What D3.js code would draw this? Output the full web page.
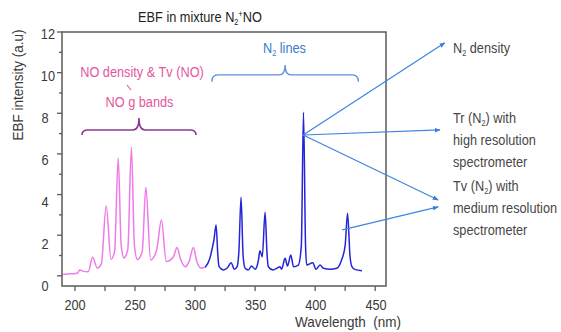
<!DOCTYPE html>
<html><head><meta charset="utf-8">
<script src="https://cdn.jsdelivr.net/npm/d3@7"></script>
<style>body{margin:0;background:#fff}svg{display:block}text{font-family:"Liberation Sans Narrow","Arial Narrow","Liberation Sans",Arial,sans-serif}</style>
</head><body><svg id="c" width="561" height="332"></svg>
<script>
// ---- data ----
const noWavelength = [190,196,202,204,207,211,214.7,218.6,222,226,230,233,236,238.5,240.8,244,247,249.5,252,256,259,263,268,272,276,282,285,288,291.7,295,298.6,301.5,304.7,308.5];
const noIntensity  = [0.07,0.1,0.13,0.29,0.22,0.2,0.92,0.38,0.6,3.45,0.82,1.2,5.8,1.5,0.88,1.3,6.33,1.5,0.8,1.2,4.36,0.78,1.27,2.75,0.7,0.94,1.4,0.8,0.45,0.7,1.4,0.7,0.38,0.42];
const n2Wavelength = [308.5,312,314,315.8,317.5,319,320,323.6,327,330,332.8,335,336.5,338.3,340,341.7,344.4,347,350,352.8,354,356,358.3,360,361,365,368,370.8,372,375,377,379.7,382,386,388.5,390.3,392,393,398,400.8,404,407,412.5,418,422,425,427,429,430.6,433,439];
const n2Intensity  = [0.42,0.8,1.27,1.8,2.5,1.0,0.45,0.29,0.4,0.65,0.32,0.45,1.2,3.87,1.0,0.37,0.29,0.48,0.33,0.78,1.24,0.94,3.13,1.0,0.45,0.29,0.37,0.45,0.33,0.86,0.48,1.02,0.45,0.53,1.5,8.05,1.5,0.53,0.65,0.32,0.53,0.37,0.32,0.37,0.78,1.5,3.08,1.0,0.45,0.32,0.25];
const xTickValues = [200,225,250,275,300,325,350,375,400,425,450];
const xTickLabels = ["200","250","300","350","400","450"];
const yTickValues = [0,1,2,3,4,5,6,7,8,9,10,11,12];
const yTickLabels = ["0","2","4","6","8","10","12"];
// annotation braces: [start nm, tip nm, end nm, tip value, line value, end value]
const noBrace = [205.8,253.3,300.8,7.77,7.18,6.93];
const n2Brace = [314,375,436,10.38,9.89,9.55];
// arrows: [from nm, from value, to nm, to value]
const arrows = [[390,6.93,508,11.47],[390,6.93,504,7.18],[390,6.93,502.5,3.73],[422.5,2.26,502.5,3.39]];

// ---- scales ----
const svg = d3.select("#c");
const x = d3.scaleLinear().domain([189.2,459]).range([62,386]);
const y = d3.scaleLinear().domain([-0.5,12]).range([286,32]);
const yLab = d3.scaleLinear().domain([0,12]).range([285,33]);
const xLab = d3.scaleLinear().domain([200,450]).range([75,376]);

const axisCol = "#5a5a5a", tickTxt = "#3a3a3a";
const SX = 0.85, FS = 15;

// condensed text helper
function ctext(px, py, opts){
  const g = svg.append("g").attr("transform",`translate(${px},${py})${opts.rot?` rotate(${opts.rot})`:""} scale(${opts.sx||SX},1)`);
  const t = g.append("text").attr("font-size",opts.fs||FS).attr("fill",opts.fill||tickTxt)
    .attr("text-anchor",opts.anchor||"start");
  return t;
}
function chem(t, pre, sub, post, supPlus){
  t.append("tspan").text(pre);
  t.append("tspan").attr("dy",3).attr("font-size",8.5).text(sub);
  if(supPlus){
    t.append("tspan").attr("dy",-8).attr("font-size",9).text("+");
    t.append("tspan").attr("dy",5).text(post);
  } else t.append("tspan").attr("dy",-3).text(post);
}

// frame
svg.append("rect").attr("x",62).attr("y",32).attr("width",324).attr("height",254)
  .attr("fill","none").attr("stroke",axisCol).attr("stroke-width",1.5);

// y ticks
svg.append("g").selectAll("line").data(yTickValues).join("line")
  .attr("x1",62).attr("x2",d=>d%2===0?57:59).attr("y1",d=>y(d)).attr("y2",d=>y(d))
  .attr("stroke",axisCol).attr("stroke-width",1.3);
yTickLabels.forEach(d=>{
  ctext(d.length>1?55:48.5, yLab(+d)+5.5, {anchor:"end"}).text(d);
});

// x ticks
svg.append("g").selectAll("line").data(xTickValues).join("line")
  .attr("x1",d=>x(d)).attr("x2",d=>x(d)).attr("y1",286).attr("y2",291)
  .attr("stroke",axisCol).attr("stroke-width",1.3);
xTickLabels.forEach(d=>{
  ctext(xLab(+d), 309.5, {anchor:"middle"}).text(d);
});

// axis titles
ctext(23,85,{rot:-90,anchor:"middle",sx:0.9}).text("EBF intensity (a.u)");
ctext(295,327,{sx:0.9}).text("Wavelength\u00a0\u00a0(nm)");

// title
chem(ctext(200,21.5,{anchor:"middle",fill:"#222"}),"EBF in mixture N","2","NO",true);

// spectra
const line = d3.line().x(d=>x(d[0])).y(d=>y(d[1])).curve(d3.curveMonotoneX);
svg.append("path").datum(d3.zip(noWavelength,noIntensity)).attr("d",line)
  .attr("fill","none").attr("stroke","#f07ae8").attr("stroke-width",1.5);
svg.append("path").datum(d3.zip(n2Wavelength,n2Intensity)).attr("d",line)
  .attr("fill","none").attr("stroke","#2424d8").attr("stroke-width",1.5);

// braces
function brace(b){
  const [a,tp,e,ty,ly,ey]=b, r=6;
  const X1=x(a),XT=x(tp),X2=x(e),YT=y(ty),YL=y(ly),YE=y(ey);
  return `M${X1},${YE} Q${X1},${YL} ${X1+r},${YL} L${XT-r},${YL} Q${XT},${YL} ${XT},${YT} Q${XT},${YL} ${XT+r},${YL} L${X2-r},${YL} Q${X2},${YL} ${X2},${YE}`;
}
svg.append("path").attr("d",brace(noBrace)).attr("fill","none").attr("stroke","#8c3a94").attr("stroke-width",1.6);
svg.append("path").attr("d",brace(n2Brace)).attr("fill","none").attr("stroke","#5b8fe2").attr("stroke-width",1.4);

// pink labels
const pink = "#e4579e";
ctext(142,77,{anchor:"middle",fill:pink}).text("NO density & Tv (NO)");
svg.append("line").attr("x1",127).attr("y1",85).attr("x2",131).attr("y2",90).attr("stroke",pink).attr("stroke-width",1.2);
ctext(139.5,107,{anchor:"middle",fill:pink}).text("NO g bands");

// N2 lines label
chem(ctext(263,53,{fill:"#3c7cc8"}),"N","2"," lines");

// arrows
const defs = svg.append("defs");
defs.append("marker").attr("id","ah").attr("viewBox","0 0 10 10").attr("refX",9).attr("refY",5)
  .attr("markerWidth",5).attr("markerHeight",5).attr("orient","auto")
  .append("path").attr("d","M0,1 L10,5 L0,9 Z").attr("fill","#3a7fe0");
svg.append("g").selectAll("line").data(arrows).join("line")
  .attr("x1",d=>x(d[0])).attr("y1",d=>y(d[1])).attr("x2",d=>x(d[2])).attr("y2",d=>y(d[3]))
  .attr("stroke","#3f84e0").attr("stroke-width",1.2).attr("marker-end","url(#ah)");

// right labels
const gray = "#474747";
chem(ctext(453,53,{fill:gray}),"N","2"," density");
chem(ctext(453,123,{fill:gray}),"Tr (N","2",") with");
ctext(453,145,{fill:gray}).text("high resolution");
ctext(453,167,{fill:gray}).text("spectrometer");
chem(ctext(453,191,{fill:gray}),"Tv (N","2",") with");
ctext(453,213,{fill:gray}).text("medium resolution");
ctext(453,235,{fill:gray}).text("spectrometer");
</script></body></html>
